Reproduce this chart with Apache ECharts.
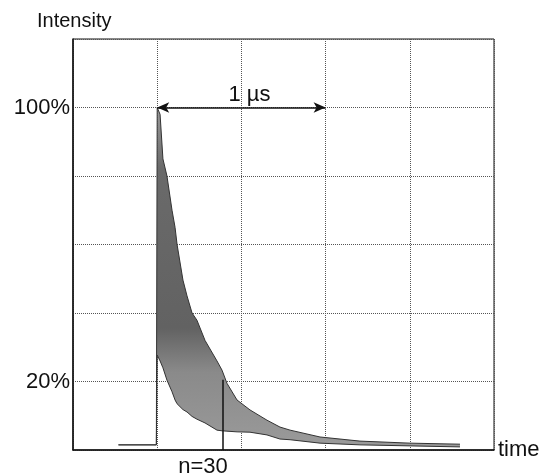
<!DOCTYPE html>
<html>
<head>
<meta charset="utf-8">
<script src="https://cdn.jsdelivr.net/npm/echarts@6/dist/echarts.min.js"></script>
<style>html,body{margin:0;padding:0;background:#fff;}#c{width:549px;height:476px;}</style>
</head>
<body>
<div id="c"></div>
<script>
// time in µs (0.5 µs per division), intensity in %
const times = [0.27, 0.495, 0.500, 0.517, 0.534, 0.558, 0.588, 0.606, 0.618, 0.653, 0.677, 0.707, 0.736, 0.784, 0.855, 0.885, 0.914, 0.974, 1.051, 1.152, 1.229, 1.289, 1.467, 1.704, 2.001, 2.298];
const upperEnv = [1.5, 1.5, 100, 98, 85, 80, 70, 65, 60, 49.6, 45, 40, 37.9, 32, 26, 23.3, 19.5, 14.6, 11.7, 8.7, 6.7, 5.8, 3.8, 2.6, 2.0, 1.7];
const lowerEnv = [1.5, 1.5, 27.7, 26, 24, 20.4, 17, 14.6, 13.5, 11.8, 11.1, 9.8, 9.0, 7.9, 5.8, 5.6, 5.5, 5.3, 5.2, 4.4, 3.2, 3.0, 2.0, 1.5, 1.2, 0.9];
const yTickLabels = [20, 100];
const spanMarker = [0.5, 1.5, 100];   // start, end, level of the "1 µs" arrow
const nMarker = [0.891, 20.5];         // time, top of the n=30 line
const FONT = 'Liberation Sans';

const bandData = times.map((t, i) => [t, lowerEnv[i], upperEnv[i]]);

function renderBand(params, api) {
  if (params.dataIndex !== 0) return null;
  const up = times.map((t, i) => api.coord([t, upperEnv[i]]));
  const lo = times.map((t, i) => api.coord([t, lowerEnv[i]]));
  const poly = up.concat(lo.slice().reverse());
  return {
    type: 'group',
    children: [
      {
        type: 'polygon', shape: {points: poly},
        style: {
          fill: new echarts.graphic.LinearGradient(0, 0, 0, 1, [
            {offset: 0, color: '#9a9a9a'},
            {offset: 0.18, color: '#6a6a6a'},
            {offset: 0.65, color: '#626262'},
            {offset: 0.78, color: '#8a8a8a'},
            {offset: 1, color: '#9a9a9a'}
          ]),
          stroke: null
        }
      },
      {type: 'polyline', shape: {points: up}, style: {fill: null, stroke: '#333', lineWidth: 1}},
      {type: 'polyline', shape: {points: lo}, style: {fill: null, stroke: '#333', lineWidth: 1}}
    ]
  };
}

const chart = echarts.init(document.getElementById('c'), null, {renderer: 'canvas'});
chart.setOption({
  backgroundColor: '#fff',
  animation: false,
  grid: {left: 73, right: 55, top: 39, bottom: 26, show: true, borderColor: '#111', borderWidth: 1, backgroundColor: 'transparent'},
  xAxis: {
    type: 'value', min: 0, max: 2.5, interval: 0.5,
    name: 'time', nameLocation: 'end', nameGap: 4,
    nameTextStyle: {fontFamily: FONT, fontSize: 22, color: '#111', verticalAlign: 'middle'},
    axisLine: {lineStyle: {color: '#111', width: 1.5}},
    axisTick: {show: false}, axisLabel: {show: false},
    splitLine: {show: true, lineStyle: {type: 'dotted', color: '#555', width: 1}}
  },
  yAxis: {
    type: 'value', min: 0, max: 120, interval: 20,
    name: 'Intensity', nameLocation: 'end', nameGap: 8,
    nameTextStyle: {fontFamily: FONT, fontSize: 20, color: '#111', align: 'left', padding: [0, 0, 0, -36]},
    axisLine: {show: true, lineStyle: {color: '#111', width: 1.5}},
    axisTick: {show: false},
    axisLabel: {
      margin: 3, fontFamily: FONT, fontSize: 22, color: '#111',
      formatter: v => yTickLabels.includes(v) ? v + '%' : ''
    },
    splitLine: {show: true, lineStyle: {type: 'dotted', color: '#555', width: 1}}
  },
  series: [
    {
      type: 'custom', renderItem: renderBand, data: bandData,
      encode: {x: 0, y: [1, 2]}, z: 3, silent: true,
      markLine: {
        silent: true, symbol: ['arrow', 'arrow'], symbolSize: [8, 12],
        lineStyle: {color: '#111', width: 1.5, type: 'solid'},
        label: {show: true, formatter: '1 µs', position: 'insideMiddleTop', distance: 2, offset: [8, 0],
                fontFamily: FONT, fontSize: 22, color: '#111'},
        data: [[{coord: [spanMarker[0], spanMarker[2]]}, {coord: [spanMarker[1], spanMarker[2]]}]]
      }
    },
    {
      type: 'line', data: [], symbol: 'none', z: 4,
      markLine: {
        silent: true, symbol: ['none', 'none'],
        lineStyle: {color: '#111', width: 1.5, type: 'solid'},
        label: {show: false},
        data: [[{coord: [nMarker[0], 0]}, {coord: [nMarker[0], nMarker[1]]}]]
      },
      markPoint: {
        silent: true, symbol: 'circle', symbolSize: 0,
        label: {show: true, formatter: 'n=30', offset: [-20, 17], fontFamily: FONT, fontSize: 22, color: '#111'},
        data: [{coord: [nMarker[0], 0]}]
      }
    }
  ]
});
</script>
</body>
</html>
